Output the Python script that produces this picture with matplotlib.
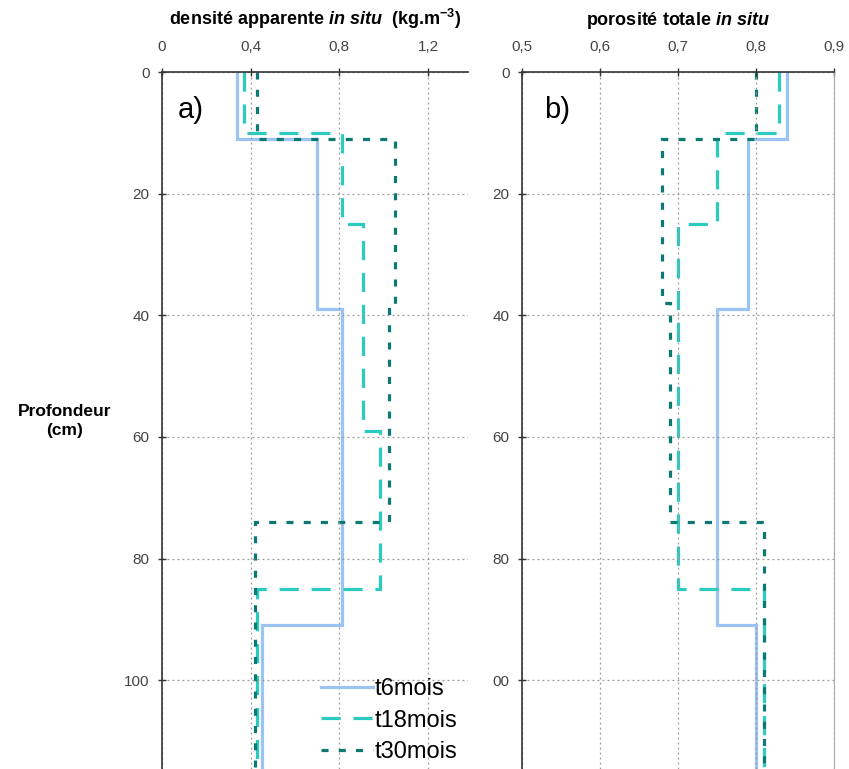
import matplotlib.pyplot as plt
from matplotlib.ticker import FixedLocator, FuncFormatter

plt.rcParams['font.family'] = ['Liberation Sans', 'DejaVu Sans']
plt.rcParams['mathtext.fontset'] = 'custom'
plt.rcParams['mathtext.it'] = 'Liberation Sans:italic:bold'
plt.rcParams['mathtext.rm'] = 'Liberation Sans:bold'
plt.rcParams['mathtext.bf'] = 'Liberation Sans:bold'

# layer boundaries (cm) and values for each profile
t6_edges = [0, 11, 39, 91, 120]
t18_edges = [0, 10, 25, 59, 85, 120]
t30_edges = [0, 11, 39, 74, 120]
t6_dens = [0.34, 0.70, 0.81, 0.45]
t18_dens = [0.37, 0.81, 0.905, 0.985, 0.43]
t30_dens = [0.43, 1.05, 1.025, 0.42]

t6_edges_b = [0, 11, 39, 91, 120]
t18_edges_b = [0, 10, 25, 85, 120]
t30_edges_b = [0, 11, 38, 74, 120]
t6_poro = [0.84, 0.79, 0.75, 0.80]
t18_poro = [0.83, 0.75, 0.70, 0.81]
t30_poro = [0.80, 0.68, 0.69, 0.81]

labels = ['t6mois', 't18mois', 't30mois']
colors = ['#9cc4f2', '#2ccbc0', '#0c7a72']
styles = ['-', (0, (6, 4)), (0, (2.2, 3.2))]

depth_ticks = [0, 20, 40, 60, 80, 100]

fig = plt.figure(figsize=(8.49, 7.69), dpi=100)
axa = fig.add_axes([162/849, 0, 306/849, 1 - 72/769])
axb = fig.add_axes([522/849, 0, 312/849, 1 - 72/769])

comma = FuncFormatter(lambda v, p: ('%g' % v).replace('.', ','))

def style_ax(ax, xlim, xticks, ylabels):
    ax.set_ylim(114.6, 0)
    ax.set_xlim(*xlim)
    ax.xaxis.set_major_locator(FixedLocator(xticks))
    ax.xaxis.set_major_formatter(comma)
    ax.xaxis.tick_top()
    ax.set_yticks(depth_ticks)
    ax.set_yticklabels(ylabels)
    ax.tick_params(axis='both', direction='inout', length=6, width=1,
                   labelsize=11, labelcolor='#444444', color='#333333')
    ax.tick_params(axis='x', pad=10)
    ax.tick_params(axis='y', pad=6)
    ax.grid(True, color='#999999', linestyle=(0, (1.5, 2.5)), linewidth=0.9)
    ax.spines['bottom'].set_visible(False)
    ax.spines['left'].set_color('#333333')
    ax.spines['top'].set_color('#333333')
    ax.spines['left'].set_linewidth(1.2)
    ax.spines['top'].set_linewidth(1.2)

style_ax(axa, (0, 1.38), [0, 0.4, 0.8, 1.2], [str(v) for v in depth_ticks])
axa.spines['right'].set_visible(False)
style_ax(axb, (0.5, 0.9), [0.5, 0.6, 0.7, 0.8, 0.9], ['0', '20', '40', '60', '80', '00'])
axb.spines['right'].set_color('#aaaaaa')

for ax, sets in [(axa, [(t6_dens, t6_edges), (t18_dens, t18_edges), (t30_dens, t30_edges)]),
                 (axb, [(t6_poro, t6_edges_b), (t18_poro, t18_edges_b), (t30_poro, t30_edges_b)])]:
    for (vals, edges), lab, c, ls in zip(sets, labels, colors, styles):
        ax.stairs(vals, edges, orientation='horizontal', baseline=None,
                  color=c, linestyle=ls, linewidth=2.3, label=lab)

axa.text(0.05, 0.945, 'a)', transform=axa.transAxes, fontsize=21, va='center')
axb.text(0.07, 0.945, 'b)', transform=axb.transAxes, fontsize=21, va='center')

axa.set_title(r'densité apparente $\it{in\ situ}$  (kg.m$^{-3}$)',
              fontsize=13, fontweight='bold', pad=34)
axb.set_title(r'porosité totale $\it{in\ situ}$',
              fontsize=13, fontweight='bold', pad=34)

fig.text(65/849, 1 - 421/769, 'Profondeur\n(cm)', ha='center', va='center',
         fontsize=12.5, fontweight='bold', linespacing=1.3)

leg = axa.legend(loc='lower right', bbox_to_anchor=(1.01, -0.012), frameon=False,
                 fontsize=17, handlelength=2.2, handletextpad=0.05,
                 labelspacing=0.4, borderaxespad=0.2)

fig.savefig('out.png', dpi=100)
